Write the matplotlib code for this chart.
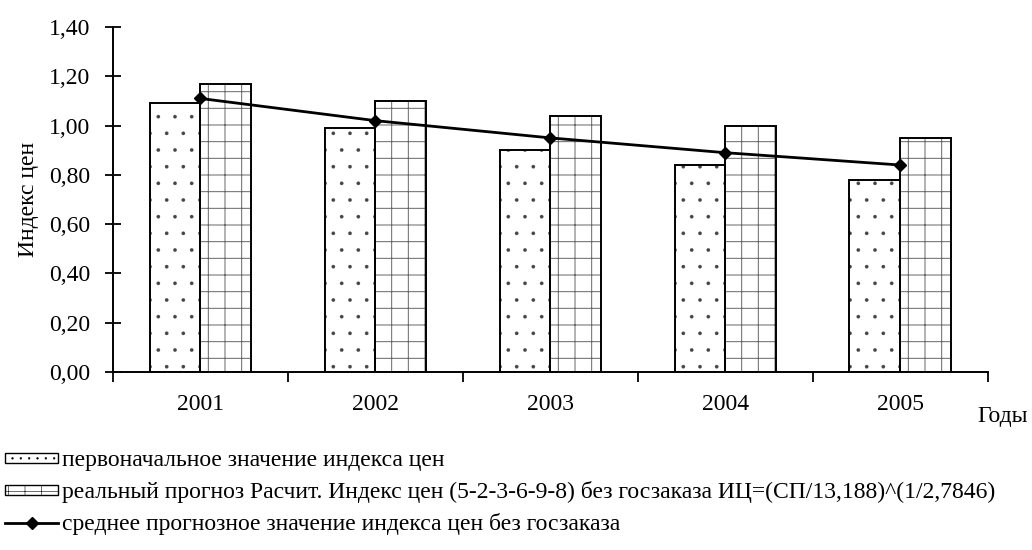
import numpy as np
import matplotlib
matplotlib.use("Agg")
import matplotlib.pyplot as plt
from matplotlib.patches import Patch
from matplotlib.lines import Line2D
from matplotlib.ticker import FuncFormatter

years = ["2001", "2002", "2003", "2004", "2005"]
initial_index = [1.09, 0.99, 0.90, 0.84, 0.78]
real_forecast = [1.17, 1.10, 1.04, 1.00, 0.95]
mean_forecast = [1.11, 1.02, 0.95, 0.89, 0.84]

label_initial = "первоначальное значение индекса цен"
label_real = "реальный прогноз Расчит. Индекс цен (5-2-3-6-9-8) без госзаказа ИЦ=(СП/13,188)^(1/2,7846)"
label_mean = "среднее прогнозное значение индекса цен без госзаказа"

plt.rcParams['font.family'] = ['Liberation Serif', 'DejaVu Serif']
FS = 17

fig = plt.figure(figsize=(10.32, 5.5), dpi=100)
ax = fig.add_axes([0.1095, 0.3236, 0.8475, 0.6273])

x = np.arange(len(years))
w = 0.29

# hatch drawn first (its colour comes from edgecolor), black outline on top
plt.rcParams['hatch.linewidth'] = 0.2
ax.bar(x - w / 2, initial_index, w, color='white', edgecolor='#444444',
       hatch='.', linewidth=0, zorder=2)
plt.rcParams['hatch.linewidth'] = 0.7
ax.bar(x + w / 2, real_forecast, w, color='white', edgecolor='#666666',
       hatch='+', linewidth=0, zorder=2)
ax.bar(x - w / 2, initial_index, w, fill=False, edgecolor='black',
       linewidth=1.4, zorder=3)
ax.bar(x + w / 2, real_forecast, w, fill=False, edgecolor='black',
       linewidth=1.4, zorder=3)

ax.plot(x, mean_forecast, color='black', linewidth=2, marker='D',
        markersize=6, zorder=4)

ax.set_xlim(-0.5, len(years) - 0.5)
ax.set_ylim(0, 1.40)
ax.set_yticks(np.arange(0, 1.41, 0.2))
ax.yaxis.set_major_formatter(FuncFormatter(lambda v, p: f"{v:.2f}".replace('.', ',')))
ax.set_xticks(x)
ax.set_xticklabels(years)
ax.set_xticks(np.arange(-0.5, len(years)), minor=True)
ax.tick_params(axis='x', which='major', length=0, pad=16, labelsize=FS)
ax.tick_params(axis='x', which='minor', length=7, width=1.3, direction='out')
ax.tick_params(axis='y', direction='inout', length=11, width=1.3, labelsize=FS, pad=11)

for s in ['top', 'right']:
    ax.spines[s].set_visible(False)
for s in ['left', 'bottom']:
    ax.spines[s].set_linewidth(1.4)

ax.set_ylabel("Индекс цен", fontsize=FS)
ax.yaxis.set_label_coords(-0.085, 0.5)
fig.text(0.947, 0.242, "Годы", fontsize=FS, ha='left', va='center')

plt.rcParams['hatch.linewidth'] = 0.4
handles = [
    Patch(facecolor='white', edgecolor='black', hatch='..', linewidth=1),
    Patch(facecolor='white', edgecolor='black', hatch='+', linewidth=1),
    Line2D([0], [0], color='black', linewidth=2, marker='D', markersize=6),
]
fig.legend(handles, [label_initial, label_real, label_mean],
           loc='upper left', bbox_to_anchor=(0.005, 0.181), frameon=False,
           fontsize=FS, handlelength=2.25, handleheight=0.3, handletextpad=0.17,
           labelspacing=0.42, borderaxespad=0, borderpad=0)

fig.savefig("out.png", dpi=100)
